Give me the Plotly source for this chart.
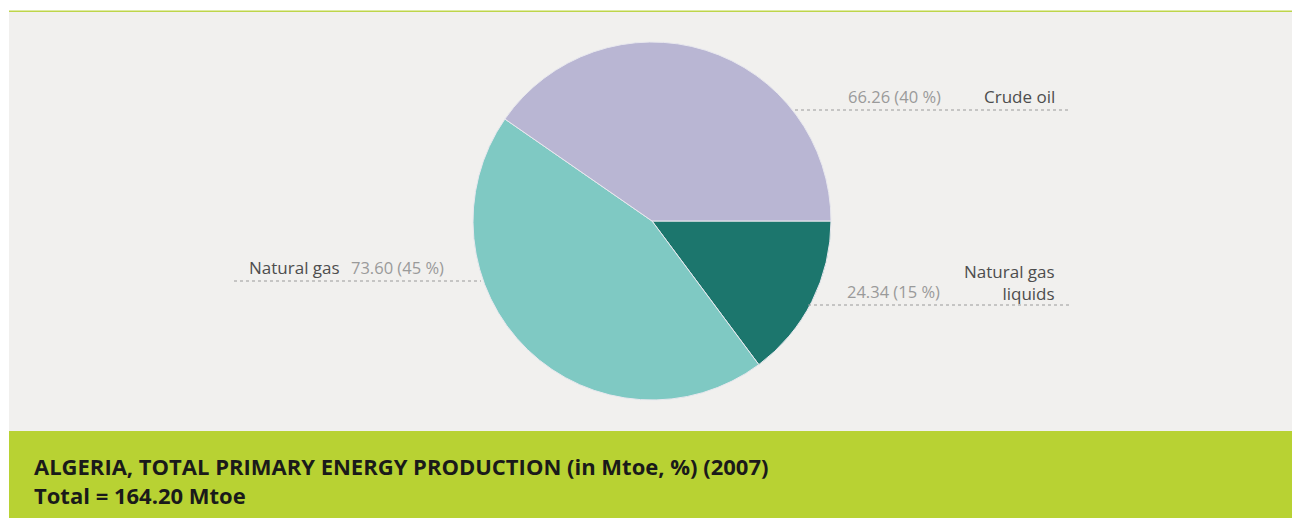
import plotly.graph_objects as go

labels = ["Natural gas liquids", "Natural gas", "Crude oil"]
values = [24.34, 73.60, 66.26]
colors = ["#1c766d", "#7fc9c3", "#b9b6d3"]
total = 164.20
title_line1 = "ALGERIA, TOTAL PRIMARY ENERGY PRODUCTION (in Mtoe, %) (2007)"
title_line2 = "Total = 164.20 Mtoe"

W, H = 1292, 518

def px(x):
    return x / W

def py(y):
    return 1 - y / H

cx, cy, r = 652, 221, 179

fig = go.Figure()
fig.add_trace(go.Pie(
    labels=labels, values=values, sort=False, direction="clockwise", rotation=90,
    marker=dict(colors=colors, line=dict(color="#e8e8ee", width=1)),
    textinfo="none", hoverinfo="label+value+percent", showlegend=False,
    domain=dict(x=[px(cx - r), px(cx + r)], y=[py(cy + r), py(cy - r)]),
))

def fmt(i):
    return f"{values[i]:.2f} ({round(values[i] / total * 100):.0f} %)"

shapes = [
    dict(type="rect", xref="paper", yref="paper", x0=px(9), x1=px(W), y0=py(431), y1=py(12),
         fillcolor="#f1f0ee", line=dict(width=0), layer="below"),
    dict(type="rect", xref="paper", yref="paper", x0=px(9), x1=px(W), y0=py(12), y1=py(10.5),
         fillcolor="#bed54a", line=dict(width=0), layer="below"),
    dict(type="rect", xref="paper", yref="paper", x0=px(9), x1=px(W), y0=py(H), y1=py(431),
         fillcolor="#b8d233", line=dict(width=0), layer="below"),
    # leader lines
    dict(type="line", xref="paper", yref="paper", x0=px(795), x1=px(1070), y0=py(110), y1=py(110),
         line=dict(color="#9a9a9a", width=1, dash="dot")),
    dict(type="line", xref="paper", yref="paper", x0=px(808), x1=px(1070), y0=py(305), y1=py(305),
         line=dict(color="#9a9a9a", width=1, dash="dot")),
    dict(type="line", xref="paper", yref="paper", x0=px(234), x1=px(481), y0=py(281), y1=py(281),
         line=dict(color="#9a9a9a", width=1, dash="dot")),
]

FONT = "Open Sans"
LBL = dict(family=FONT, size=17, color="#4d4d4d")
VAL = dict(family=FONT, size=16.5, color="#9a9a9a")

def ann(x, y, text, font, xanchor):
    return dict(xref="paper", yref="paper", x=px(x), y=py(y), text=text, showarrow=False,
                font=font, xanchor=xanchor, yanchor="middle", align=xanchor)

annotations = [
    ann(1057, 97, labels[2], LBL, "right"),
    ann(943, 97, fmt(2), VAL, "right"),
    ann(1057, 282, labels[0].replace("gas ", "gas<br>"), LBL, "right"),
    ann(942, 291, fmt(0), VAL, "right"),
    ann(247, 267, labels[1], LBL, "left"),
    ann(349, 267, fmt(1), VAL, "left"),
    dict(xref="paper", yref="paper", x=px(32), y=py(480), xanchor="left", yanchor="middle",
         align="left", showarrow=False,
         text=f"<b>{title_line1}</b><br><b>{title_line2}</b>",
         font=dict(family=FONT, size=22, color="#1a1a1a")),
]

fig.update_layout(
    width=W, height=H, margin=dict(l=0, r=0, t=0, b=0),
    paper_bgcolor="white", plot_bgcolor="white",
    shapes=shapes, annotations=annotations,
)

fig.write_html("out.html", config={"displayModeBar": False},
               post_script="document.body.style.margin='0';document.body.style.overflow='hidden';")
